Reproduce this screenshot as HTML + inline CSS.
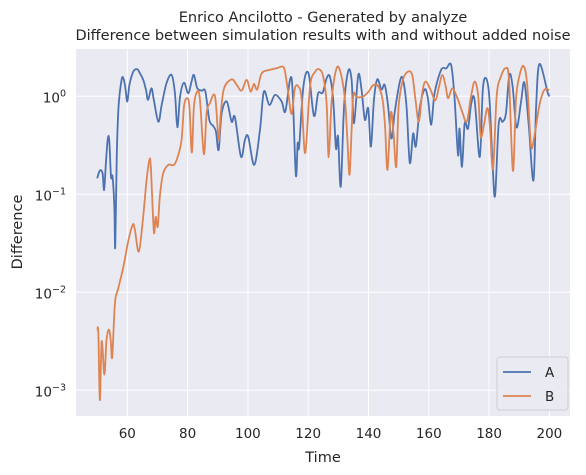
<!DOCTYPE html>
<html><head><meta charset="utf-8"><style>
body{margin:0;background:#fff;}
svg{display:block;font-family:"DejaVu Sans","Liberation Sans",sans-serif;}
</style></head><body>
<svg id="chart" width="586" height="475">
<text x="323" y="22" text-anchor="middle" font-size="14.5" fill="#262626">Enrico Ancilotto - Generated by analyze</text>
<text x="323" y="40" text-anchor="middle" font-size="14.5" fill="#262626">Difference between simulation results with and without added noise</text>
<rect x="76" y="49" width="494" height="367" fill="#eaeaf2"/>
<g id="grid"></g>
<g id="ticks"></g>
<g id="series"></g>
<text x="323" y="462" text-anchor="middle" font-size="14.5" fill="#262626">Time</text>
<text transform="translate(22,232) rotate(-90)" text-anchor="middle" font-size="14.5" fill="#262626">Difference</text>
<g>
<rect x="497" y="357" width="71" height="53" rx="3" fill="#eaeaf2" stroke="#cccccc" opacity="0.9"/>
<line x1="503" y1="372" x2="531" y2="372" stroke="#4c72b0" stroke-width="1.8"/>
<text x="545" y="377" font-size="13.5" fill="#262626">A</text>
<line x1="503" y1="396" x2="531" y2="396" stroke="#dd8452" stroke-width="1.8"/>
<text x="545" y="401" font-size="13.5" fill="#262626">B</text>
</g>
</svg>
<script>
const xTicks=[60,80,100,120,140,160,180,200];
const yTickExps=[0,-1,-2,-3];
const timeA=[50,50.9,51.8,52.3,52.9,53.5,54,54.6,55.1,55.7,56,56.5,57.1,58.1,58.7,59.3,60,60.7,62,63.3,64.2,65.3,66.2,66.9,68,68.8,70.3,71.4,73,74.7,75.8,76.6,77.5,78.8,80.2,81.3,82.1,83.2,84.7,85.9,87.2,88.5,89.4,90.3,91.3,93,94.6,95.7,97.7,99,100.1,102.1,104,105.3,107.1,109,111.2,112.4,114,114.8,115.9,116.5,117,118.4,120.1,121.9,123.3,124.8,126.1,127.2,128.3,129.2,129.9,130.8,131.9,133.3,134.4,135.2,136.6,137.7,138.8,139.9,140.8,141.8,142.9,144.3,145.4,146.5,147.6,148.7,150.4,151.4,152.6,153.7,154.8,155.7,157,158.6,159.7,160.8,161.9,164.1,165.8,167.4,168.5,169.7,170.2,171,171.9,173,174.1,175.2,176.9,177.9,179,180.1,181.2,182,183.2,184.5,185.6,186.7,187.8,189.1,190.6,191.7,193.1,194.7,195.6,196.7,199.5,200];
const logA=[-0.837,-0.758,-0.786,-0.956,-0.684,-0.439,-0.446,-0.82,-0.82,-1.126,-1.54,-0.616,-0.105,0.167,0.184,0.1,-0.054,0.116,0.252,0.276,0.235,0.167,0.065,-0.037,0.082,-0.037,-0.259,-0.088,0.133,0.218,0.031,-0.316,-0.003,0.139,0.031,0.15,0.218,0.082,0.058,0.048,-0.241,-0.303,-0.36,-0.548,-0.173,-0.054,-0.259,-0.214,-0.616,-0.446,-0.412,-0.7,-0.344,0.048,-0.088,0.014,-0.054,-0.156,0.173,0.065,-0.803,-0.48,-0.514,0.099,0.234,-0.2,0.03,0.037,0.183,0.2,-0.04,-0.53,-0.41,-0.92,-0.1,0.26,0.166,-0.275,0.217,0.064,-0.24,-0.123,-0.514,-0.04,0.173,0.07,0.115,-0.1,-0.43,-0.16,0.15,0.173,-0.1,-0.68,-0.38,-0.51,-0.123,0.07,-0.02,-0.29,0.03,0.27,0.285,0.32,0,-0.6,-0.33,-0.72,-0.275,-0.33,-0.07,-0.04,-0.62,0.064,0.183,-0.02,-0.72,-1.01,-0.275,-0.26,-0.17,0.217,0.1,-0.317,-0.055,0.14,-0.275,-0.86,-0.1,0.33,0.03,0.02];
const timeB=[50,50.4,50.9,51.5,52.4,53.1,53.9,54.5,55,55.9,57,58.7,60.3,61.8,62.5,63.8,65.1,66.4,67.3,67.8,68.8,69.4,70.1,70.8,71.9,73.6,75.5,76.9,78,78.8,79.7,80.6,81.4,82.1,83.2,84.1,85.4,86.3,87.4,89.1,90.3,91,92.1,94.6,96.3,97.9,99.6,100.9,102,103.1,104.6,107.3,109.5,111.5,112.3,113.4,114.5,115.6,116.7,117.8,119,120.6,122.3,123.7,125,126.1,126.8,127.8,129.4,130.8,132.2,133,133.7,134.4,135,136.1,138.3,140,141.6,143.3,144.7,145.5,146.3,147.4,148.3,149.2,150,151.4,153,154.5,155.6,156.7,157.8,158.9,160.6,162.2,163.4,164.5,165.6,166.4,167.8,169.5,171.1,172.6,173.9,175.2,176.4,177.2,178.3,179.4,180.2,181.3,182.5,183.9,185.5,186.6,187.9,188.9,190,191.4,192.6,193.9,195,196.7,198.3,200];
const logB=[-2.38,-2.42,-3.1,-2.5,-2.84,-2.49,-2.38,-2.49,-2.66,-2.11,-1.96,-1.74,-1.48,-1.31,-1.36,-1.585,-1.28,-0.854,-0.656,-0.72,-1.38,-1.23,-1.33,-1.02,-0.786,-0.7,-0.7,-0.6,-0.446,-0.105,-0.02,-0.105,-0.575,-0.105,0.048,-0.037,-0.59,-0.173,-0.07,0,-0.446,-0.173,0.082,0.173,0.116,0.058,0.167,0.048,0.126,0.07,0.235,0.27,0.286,0.303,0.252,0.031,-0.18,0.082,0.1,-0.02,-0.58,0.1,0.25,0.275,0.2,-0.07,-0.62,-0.04,0.285,0.235,-0.04,-0.446,-0.8,-0.34,0.02,-0.01,0,0.047,0.115,0.1,-0.04,-0.31,-0.75,-0.17,-0.38,-0.72,-0.1,0.166,0.25,0.217,-0.04,-0.26,0.03,0.15,0.064,-0.04,0.1,0.217,0.1,-0.02,0.08,-0.02,-0.16,-0.26,-0.02,0.15,0,-0.41,-0.29,-0.12,-0.275,-0.74,0,0.2,0.285,0.166,-0.76,-0.04,0.2,0.31,0.13,-0.5,-0.41,-0.09,0.064,0.064];
const valuesA=logA.map(v=>Math.pow(10,v));
const valuesB=logB.map(v=>Math.pow(10,v));

const NS="http://www.w3.org/2000/svg";
const X=t=>127.3+(t-60)*3.015;
const Y=v=>96.3-Math.log10(v)*98;
const grid=document.getElementById('grid'),ticks=document.getElementById('ticks'),ser=document.getElementById('series');
function mk(tag,p,attrs){const e=document.createElementNS(NS,tag);for(const k in attrs)e.setAttribute(k,attrs[k]);p.appendChild(e);return e;}
xTicks.forEach(t=>{
  const l=mk('line',grid,{x1:X(t),x2:X(t),y1:49,y2:416,stroke:'#fff','stroke-width':1});
  
  
  const tx=mk('text',ticks,{x:X(t),y:438,'text-anchor':'middle','font-size':13.5,fill:'#262626'});
  tx.textContent=t;
  
  
});
yTickExps.forEach(e=>{
  const y=Y(Math.pow(10,e));
  const l=mk('line',grid,{x1:76,x2:570,y1:y,y2:y,stroke:'#fff','stroke-width':1});
  
  
  const tx=mk('text',ticks,{x:66,y:y+6,'text-anchor':'end','font-size':13.5,fill:'#262626'});
  
  
  const a=document.createElementNS(NS,'tspan');a.textContent='10';tx.appendChild(a);
  const b=document.createElementNS(NS,'tspan');b.setAttribute('dy','-6');b.setAttribute('font-size','9.5');b.textContent=e===0?'0':'\u2212'+(-e);tx.appendChild(b);
});
function line(ts,vs,color,name){
  const pts=ts.map((t,i)=>[X(t),Y(vs[i])]);
  let d='M'+pts[0][0]+','+pts[0][1];
  for(let i=0;i<pts.length-1;i++){
    const p0=pts[i-1]||pts[i],p1=pts[i],p2=pts[i+1],p3=pts[i+2]||p2;
    const c1x=p1[0]+(p2[0]-p0[0])/6,c1y=p1[1]+(p2[1]-p0[1])/6;
    const c2x=p2[0]-(p3[0]-p1[0])/6,c2y=p2[1]-(p3[1]-p1[1])/6;
    d+=`C${c1x},${c1y} ${c2x},${c2y} ${p2[0]},${p2[1]}`;
  }
  const p=mk('path',ser,{d:d,fill:'none',stroke:color,'stroke-width':1.8,'stroke-linejoin':'round'});
  
  
}
line(timeA,valuesA,'#4c72b0','series-a-line');
line(timeB,valuesB,'#dd8452','series-b-line');
</script>
</body></html>
